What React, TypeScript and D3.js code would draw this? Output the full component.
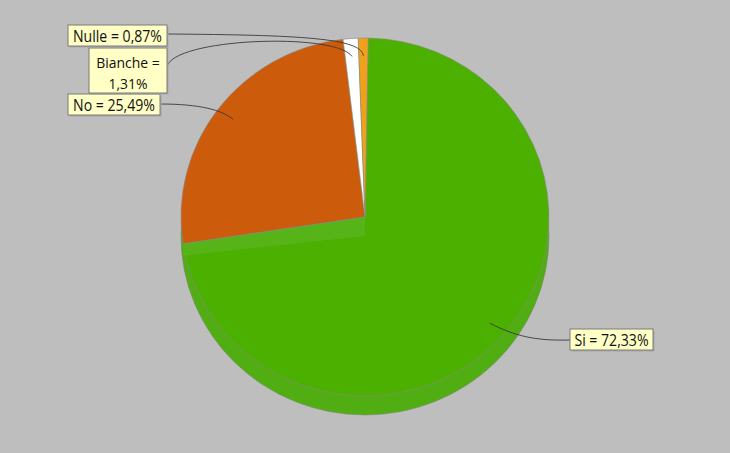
import React from "react";
import * as d3 from "d3";

const categories = ["Si", "No", "Bianche", "Nulle"];
const values = [72.33, 25.49, 1.31, 0.87];
const labelTexts = [["Si = 72,33%"], ["No = 25,49%"], ["Bianche =", "1,31%"], ["Nulle = 0,87%"]];
const colors = ["#4bb000", "#cc5b0b", "#ffffff", "#efa11a"];

const W = 730, H = 453;
const cx = 365, cy = 217, rx = 184, ry = 179, depth = 19;
const startOffset = (1 * Math.PI) / 180;

// label box layout: x, y (top-left), width, height; control points for leader curve
const labelLayout = [
  { x: 570, y: 329, w: 83, h: 21, side: "left", ly: 340, c1: [535, 341], c2: [515, 336] },
  { x: 68, y: 94, w: 92, h: 21, side: "right", ly: 104, c1: [200, 104], c2: [222, 110] },
  { x: 89, y: 48, w: 78, h: 45, side: "right", ly: 67, c1: [172, 38], c2: [335, 32] },
  { x: 68, y: 25, w: 99, h: 21, side: "right", ly: 34, c1: [300, 35], c2: [362, 38] },
];

function pt(angle: number, f: number, dy = 0): [number, number] {
  return [cx + rx * f * Math.sin(angle), cy - ry * f * Math.cos(angle) + dy];
}

export default function App() {
  const pie = d3
    .pie<number>()
    .sort(null)
    .startAngle(startOffset)
    .endAngle(startOffset + 2 * Math.PI)(values);
  const arc = d3.arc<d3.PieArcDatum<number>>().innerRadius(0).outerRadius(1);

  const siEnd = pie[0].endAngle;
  const e0 = pt(siEnd, 1);
  const wall = [pt(siEnd, 0), e0, [e0[0], e0[1] + 12] as [number, number], pt(siEnd, 0, depth)];

  return (
    <div style={{ position: "fixed", left: 0, top: 0 }}>
      <svg width={W} height={H} style={{ display: "block" }}>
        <rect x={0} y={0} width={W} height={H} fill="#bebebe" />
        {/* side / depth */}
        <ellipse cx={cx} cy={cy + depth} rx={rx} ry={ry} fill="#50ae12" stroke="#7a8a70" strokeWidth={0.6} />
        <g transform={`translate(${cx},${cy}) scale(${rx},${ry})`}>
          {pie.map((d, i) => (
            <path
              key={categories[i]}
              d={arc(d) || ""}
              fill={colors[i]}
              stroke="#8a8a8a"
              strokeWidth={0.6}
              vectorEffect="non-scaling-stroke"
            />
          ))}
        </g>
        <path d={d3.line()(wall) + "Z"} fill="#58b41c" opacity={0.85} />
        <path d={d3.line()([pt(siEnd, 0), e0])} stroke="#8a8a8a" strokeWidth={0.6} fill="none" />
        {/* leader lines */}
        {pie.map((d, i) => {
          const L = labelLayout[i];
          const mid = (d.startAngle + d.endAngle) / 2;
          const end = pt(mid, 0.9);
          const sx = L.side === "left" ? L.x : L.x + L.w;
          const p = d3.path();
          p.moveTo(sx, L.ly);
          p.bezierCurveTo(L.c1[0], L.c1[1], L.c2[0], L.c2[1], end[0], end[1]);
          return (
            <path key={"l" + i} d={p.toString()} fill="none" stroke="#3a3a3a" strokeWidth={0.9} />
          );
        })}
        {/* label boxes */}
        {labelLayout.map((L, i) => {
          const n = labelTexts[i].length;
          const fs = n > 1 ? 15 : 16;
          const step = 21;
          const first = L.y + L.h / 2 + 6 - ((n - 1) * step) / 2 + (n > 1 ? 1.5 : 0);
          return (
            <g key={"b" + i}>
              <rect x={L.x + 1.5} y={L.y + 1.5} width={L.w} height={L.h} fill="#a8a8a8" />
              <rect x={L.x} y={L.y} width={L.w} height={L.h} fill="#ffffc6" stroke="#7a7a7a" strokeWidth={1} />
              {labelTexts[i].map((t, j) => (
                <text
                  key={j}
                  transform={`translate(${L.x + L.w / 2},${first + j * step}) scale(${n > 1 ? 0.93 : 0.88},1)`}
                  textAnchor="middle"
                  fontFamily="'Open Sans', sans-serif"
                  fontSize={fs}
                  fill="#111"
                >
                  {t}
                </text>
              ))}
            </g>
          );
        })}
      </svg>
    </div>
  );
}
